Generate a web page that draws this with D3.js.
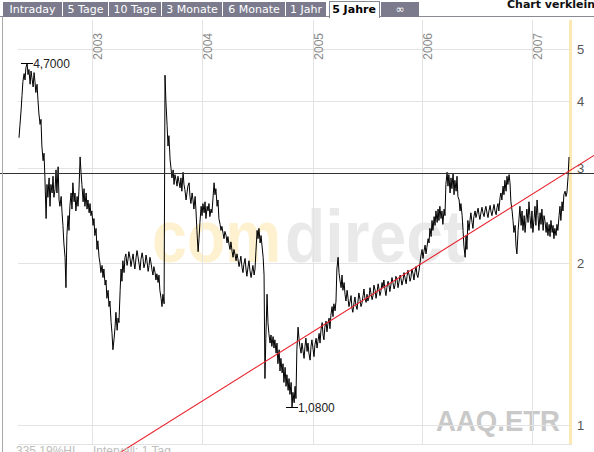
<!DOCTYPE html>
<html><head><meta charset="utf-8">
<script src="https://cdn.jsdelivr.net/npm/d3@7"></script>
<style>body{margin:0;background:#fff}svg{display:block}</style>
</head><body><svg id="c" width="594" height="452"></svg>
<script>
// ---------- data ----------
const startDate = "2002-05-02";
const endDate = "2007-05-03";
const prices = [
3.42,3.60,3.85,4.10,4.35,4.50,4.38,4.62,4.70,4.48,
4.58,4.30,4.55,4.42,4.25,4.52,4.35,4.15,4.30,4.02,
3.80,3.62,3.70,3.30,3.10,3.20,2.90,2.42,2.80,2.65,
2.88,2.55,2.80,2.70,2.90,2.65,2.75,2.98,2.70,3.02,
2.62,2.55,2.66,2.48,2.35,2.18,2.05,1.80,2.25,2.45,
2.30,2.55,2.70,2.52,2.82,2.60,2.70,2.50,2.66,2.55,
2.72,3.15,2.95,2.80,2.60,2.75,2.55,2.70,2.52,2.62,
2.48,2.58,2.45,2.50,2.35,2.42,2.25,2.32,2.12,2.20,
2.05,2.00,1.92,1.98,1.88,1.95,1.82,1.86,1.72,1.78,
1.66,1.70,1.55,1.48,1.38,1.45,1.52,1.62,1.50,1.58,
1.55,1.78,1.95,1.85,2.02,1.92,2.05,2.08,1.98,2.03,
2.10,2.04,1.97,2.02,2.08,2.00,1.95,2.05,2.11,2.06,
1.99,1.94,2.03,2.09,2.04,1.96,2.00,2.07,2.02,1.93,
1.98,2.05,2.01,1.94,1.90,1.97,1.92,1.86,1.91,1.84,
1.90,1.78,1.72,1.66,1.75,1.68,4.47,4.00,3.60,3.30,
3.45,3.11,3.00,2.88,2.98,2.80,2.92,2.85,2.78,2.90,
2.84,2.76,2.88,2.72,2.95,2.80,2.74,2.62,2.70,2.78,
2.82,2.66,2.58,2.70,2.62,2.52,2.66,2.50,2.30,2.10,
2.22,2.38,2.55,2.45,2.58,2.48,2.60,2.42,2.55,2.50,
2.58,2.44,2.52,2.48,2.62,2.82,2.68,2.75,2.55,2.62,
2.42,2.36,2.30,2.34,2.27,2.22,2.29,2.25,2.18,2.24,
2.16,2.12,2.19,2.10,2.05,2.12,2.07,2.02,2.08,2.04,
1.97,2.01,2.06,1.96,1.92,1.99,2.04,1.95,1.89,1.97,
2.02,1.94,1.88,1.93,1.98,1.90,1.95,2.10,2.30,2.22,
2.32,2.18,2.25,2.16,2.05,1.90,1.22,1.45,1.75,1.55,
1.48,1.42,1.47,1.40,1.46,1.39,1.44,1.36,1.42,1.30,
1.38,1.26,1.33,1.25,1.30,1.20,1.28,1.18,1.24,1.16,
1.22,1.14,1.20,1.08,1.15,1.10,1.18,1.12,1.38,1.52,
1.45,1.40,1.36,1.42,1.38,1.33,1.40,1.45,1.37,1.42,
1.36,1.32,1.40,1.44,1.38,1.34,1.41,1.45,1.39,1.43,
1.48,1.42,1.50,1.55,1.47,1.44,1.52,1.56,1.49,1.54,
1.58,1.51,1.60,1.66,1.59,1.68,1.63,1.70,1.95,2.05,
1.92,1.86,1.80,1.90,1.78,1.84,1.75,1.70,1.78,1.72,
1.66,1.70,1.74,1.65,1.62,1.69,1.73,1.67,1.64,1.70,
1.76,1.71,1.66,1.68,1.74,1.79,1.72,1.69,1.75,1.70,
1.73,1.80,1.76,1.71,1.74,1.82,1.78,1.72,1.76,1.83,
1.79,1.74,1.77,1.84,1.80,1.86,1.78,1.74,1.80,1.85,
1.82,1.77,1.83,1.88,1.84,1.79,1.82,1.89,1.86,1.80,
1.84,1.90,1.87,1.82,1.86,1.92,1.88,1.83,1.89,1.94,
1.90,1.85,1.88,1.95,1.91,1.86,1.92,1.97,1.90,1.88,
1.94,2.00,2.06,2.12,2.04,2.10,2.16,2.08,2.14,2.22,
2.18,2.32,2.24,2.40,2.30,2.44,2.35,2.50,2.38,2.52,
2.40,2.55,2.42,2.50,2.36,2.52,2.45,2.80,2.95,2.78,
2.92,2.70,2.88,2.75,2.94,2.68,2.85,2.72,2.90,2.66,
2.62,2.50,2.58,2.45,2.30,2.15,2.05,2.25,2.12,2.40,
2.30,2.40,2.48,2.38,2.32,2.44,2.50,2.43,2.47,2.53,
2.46,2.41,2.49,2.54,2.48,2.44,2.51,2.55,2.47,2.43,
2.50,2.56,2.49,2.45,2.52,2.57,2.50,2.46,2.54,2.58,
2.50,2.65,2.70,2.62,2.78,2.68,2.85,2.72,2.90,2.80,
2.92,2.82,2.60,2.50,2.40,2.28,2.35,2.15,2.08,2.30,
2.42,2.55,2.35,2.50,2.30,2.45,2.28,2.40,2.52,2.38,
2.60,2.45,2.32,2.50,2.28,2.42,2.55,2.35,2.62,2.45,
2.30,2.48,2.36,2.52,2.30,2.45,2.40,2.28,2.38,2.25,
2.36,2.24,2.40,2.28,2.35,2.22,2.32,2.25,2.36,2.30,
2.45,2.55,2.40,2.60,2.50,2.68,2.72,2.66,2.70,2.90,
3.15
];
const yTicks = [1, 2, 3, 4, 5];
const yearTicks = ["2003", "2004", "2005", "2006", "2007"];
const tabs = ["Intraday", "5 Tage", "10 Tage", "3 Monate", "6 Monate", "1 Jahr", "5 Jahre", "\u221E"];
const activeTab = "5 Jahre";
const refValue = 2.936;
const trendDates = ["2003-04-06", "2007-05-03"];
const trendValues = [0.891, 2.965];
const symbol = "AAQ.ETR";
const footerTexts = ["335,19%HI", "Intervall: 1 Tag"];

// ---------- layout ----------
const W = 594, H = 452;
const tabEdges = [[3,62],[63,108],[109,161],[162,222],[223,285],[286,326],[329,379],[381,419]];
const svg = d3.select("#c");
const parse = d3.timeParse("%Y-%m-%d");
const fmt = d3.format(".4f");
const deNum = v => fmt(v).replace(".", ",");

const x = d3.scaleTime().domain([parse(startDate), parse(endDate)]).range([19, 569]);
const y = d3.scaleLog().domain([1, 5]).range([425, 49]);

const t0 = parse(startDate), span = d3.timeDay.count(t0, parse(endDate));
const data = prices.map((v, i) => ({ date: d3.timeDay.offset(t0, Math.round(i * span / (prices.length - 1))), v }));

svg.append("rect").attr("width", W).attr("height", H).attr("fill", "#fff");

// watermark
svg.append("text").attr("x", 152).attr("y", 262).attr("font-family", "Liberation Sans, Arial, sans-serif")
  .attr("font-weight", "bold").attr("font-size", 75).attr("fill", "#fdf1cf")
  .attr("textLength", 129).attr("lengthAdjust", "spacingAndGlyphs").text("com");
svg.append("text").attr("x", 285).attr("y", 262).attr("font-family", "Liberation Sans, Arial, sans-serif")
  .attr("font-weight", "bold").attr("font-size", 75).attr("fill", "#e9e9e9")
  .attr("textLength", 180).attr("lengthAdjust", "spacingAndGlyphs").text("direct");
svg.append("text").attr("x", 436).attr("y", 431).attr("font-family", "Liberation Sans, Arial, sans-serif")
  .attr("font-weight", "bold").attr("font-size", 29).attr("fill", "#c9c9c9")
  .attr("textLength", 124).attr("lengthAdjust", "spacingAndGlyphs").text(symbol);

// grid
const grid = svg.append("g").attr("stroke", "#e3e3e3").attr("shape-rendering", "crispEdges");
grid.selectAll(".h").data(yTicks).join("line")
  .attr("x1", 18).attr("x2", 569).attr("y1", d => Math.round(y(d)) + 0.5).attr("y2", d => Math.round(y(d)) + 0.5);
grid.selectAll(".v").data(yearTicks).join("line")
  .attr("x1", d => Math.round(x(parse(d + "-01-01"))) + 0.5).attr("x2", d => Math.round(x(parse(d + "-01-01"))) + 0.5)
  .attr("y1", 20).attr("y2", 444);
grid.append("line").attr("x1", 18).attr("x2", 572).attr("y1", 444.5).attr("y2", 444.5);

// year labels
svg.append("g").selectAll("text").data(yearTicks).join("text")
  .attr("transform", d => `translate(${Math.round(x(parse(d + "-01-01"))) + 10},33) rotate(-90)`)
  .attr("text-anchor", "end").attr("font-family", "Liberation Sans, Arial, sans-serif")
  .attr("font-size", 12).attr("fill", "#8a8a8a").text(d => d);

// yellow band
svg.append("rect").attr("x", 569).attr("y", 20).attr("width", 3).attr("height", 424).attr("fill", "#fce8b2");

// right axis labels
svg.append("g").selectAll("text").data(yTicks).join("text")
  .attr("x", 577).attr("y", d => y(d)).attr("dy", "0.36em")
  .attr("font-family", "Liberation Sans, Arial, sans-serif").attr("font-size", 13).attr("fill", "#555")
  .text(d => d);

// price line
svg.append("path").datum(data).attr("fill", "none").attr("stroke", "#000").attr("stroke-width", 1)
  .attr("d", d3.line().x(d => x(d.date)).y(d => y(d.v)));

// reference horizontal line
svg.append("line").attr("x1", 0).attr("x2", W).attr("y1", Math.round(y(refValue)) + 0.5).attr("y2", Math.round(y(refValue)) + 0.5)
  .attr("stroke", "#333").attr("shape-rendering", "crispEdges");

// trend line (extended across the view)
const p1 = [x(parse(trendDates[0])), y(trendValues[0])], p2 = [x(parse(trendDates[1])), y(trendValues[1])];
const slope = (p2[1] - p1[1]) / (p2[0] - p1[0]);
svg.append("line").attr("x1", 0).attr("y1", p1[1] + slope * (0 - p1[0]))
  .attr("x2", W).attr("y2", p1[1] + slope * (W - p1[0]))
  .attr("stroke", "#e8202a").attr("stroke-width", 1.1);

// min / max markers
const maxD = data.reduce((a, b) => b.v > a.v ? b : a), minD = data.reduce((a, b) => b.v < a.v ? b : a);
[maxD, minD].forEach(d => {
  const px = x(d.date), py = Math.round(y(d.v)) + 0.5;
  svg.append("line").attr("x1", px - 6).attr("x2", px + 6).attr("y1", py).attr("y2", py)
    .attr("stroke", "#000").attr("shape-rendering", "crispEdges");
  svg.append("text").attr("x", px + 6).attr("y", py).attr("dy", "0.36em")
    .attr("font-family", "Liberation Sans, Arial, sans-serif").attr("font-size", 12).attr("fill", "#222")
    .text(deNum(d.v));
});

// left border
svg.append("line").attr("x1", 2.5).attr("x2", 2.5).attr("y1", 17).attr("y2", H).attr("stroke", "#a8a8a8");

// footer texts
svg.append("text").attr("x", 16).attr("y", 455).attr("font-family", "Liberation Sans, Arial, sans-serif")
  .attr("font-size", 12).attr("fill", "#bdbdbd").text(footerTexts[0]);
svg.append("text").attr("x", 93).attr("y", 455).attr("font-family", "Liberation Sans, Arial, sans-serif")
  .attr("font-size", 12).attr("fill", "#bdbdbd").text(footerTexts[1]);

// tabs
svg.append("line").attr("x1", 0).attr("x2", W).attr("y1", 16.5).attr("y2", 16.5).attr("stroke", "#8a8a96");
const tg = svg.append("g");
tabs.forEach((t, i) => {
  const [a, b] = tabEdges[i];
  const act = t === activeTab;
  tg.append("rect").attr("x", act ? a + 0.5 : a).attr("y", act ? 1.5 : 2).attr("width", b - a).attr("height", act ? 16 : 15)
    .attr("fill", act ? "#fff" : "#7b7b8d").attr("stroke", act ? "#8a8a96" : "none");
  if (act) tg.append("rect").attr("x", a + 1).attr("y", 15).attr("width", b - a - 1).attr("height", 3).attr("fill", "#fff");
  tg.append("text").attr("x", (a + b) / 2).attr("y", 13).attr("text-anchor", "middle")
    .attr("font-family", "DejaVu Sans, Verdana, sans-serif").attr("font-size", 11)
    .attr("font-weight", act ? "bold" : "normal").attr("fill", act ? "#000" : "#fff").text(t);
});
svg.append("text").attr("x", 507).attr("y", 8).attr("font-family", "DejaVu Sans, Verdana, sans-serif")
  .attr("font-size", 11).attr("font-weight", "bold").attr("fill", "#111").text("Chart verkleinern");
</script></body></html>
